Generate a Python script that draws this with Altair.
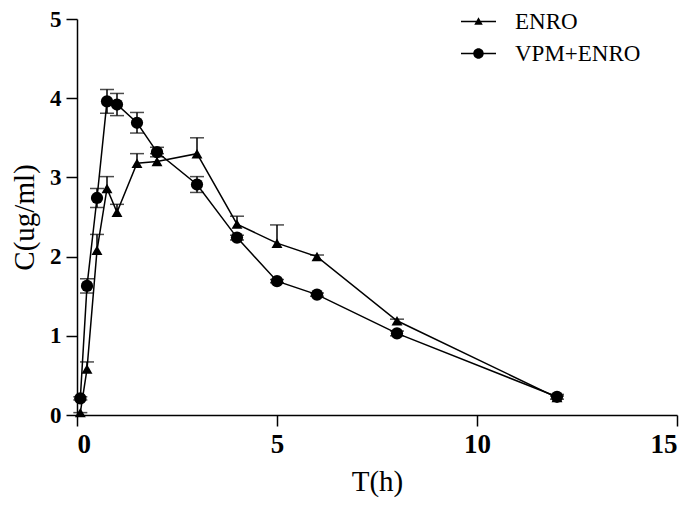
import altair as alt
import pandas as pd

# ---- data ----
time = [0.083, 0.25, 0.5, 0.75, 1, 1.5, 2, 3, 4, 5, 6, 8, 12]
enro = [0.03, 0.58, 2.08, 2.86, 2.56, 3.18, 3.20, 3.30, 2.41, 2.17, 2.00, 1.19, 0.22]
enro_err = [0.0, 0.09, 0.20, 0.15, 0.10, 0.12, 0.10, 0.20, 0.10, 0.23, 0.02, 0.02, 0.02]
vpm = [0.21, 1.63, 2.74, 3.96, 3.92, 3.69, 3.32, 2.91, 2.24, 1.69, 1.52, 1.03, 0.23]
vpm_err = [0.02, 0.09, 0.12, 0.15, 0.14, 0.13, 0.06, 0.10, 0.03, 0.02, 0.02, 0.03, 0.03]
series = ["ENRO", "VPM+ENRO"]
x_ticks = [0, 5, 10, 15]
y_ticks = [0, 1, 2, 3, 4, 5]

# ---- tables ----
rows = []
for t, v, e in zip(time, enro, enro_err):
    rows.append({"t": t, "c": v, "lo": v, "hi": v + e, "series": series[0]})
for t, v, e in zip(time, vpm, vpm_err):
    rows.append({"t": t, "c": v, "lo": v - e, "hi": v + e, "series": series[1]})
df = pd.DataFrame(rows)

caps = []
for r in rows:
    caps.append({"t": r["t"], "cap": r["hi"], "series": r["series"]})
    if r["series"] == series[1]:
        caps.append({"t": r["t"], "cap": r["lo"], "series": r["series"]})
caps_df = pd.DataFrame(caps)

FONT = "Liberation Serif"

xs = alt.Scale(domain=[0, 15], nice=False, zero=False)
ys = alt.Scale(domain=[0, 5], nice=False)
x_enc = alt.X("t:Q", scale=xs,
              axis=alt.Axis(values=x_ticks, format="d", title="T(h)",
                            titlePadding=10))
y_enc = alt.Y("c:Q", scale=ys,
              axis=alt.Axis(values=y_ticks, format="d", title="C(ug/ml)",
                            titlePadding=10))

base = alt.Chart(df)

lines = base.mark_line(color="black", strokeWidth=1.5).encode(
    x=x_enc, y=y_enc, detail="series:N")

bars = base.mark_rule(color="black", strokeWidth=1.5).encode(
    x=alt.X("t:Q", scale=xs), y=alt.Y("lo:Q", scale=ys), y2="hi:Q")

cap_marks = alt.Chart(caps_df).mark_tick(
    color="black", orient="horizontal", size=14, thickness=1.5).encode(
    x=alt.X("t:Q", scale=xs), y=alt.Y("cap:Q", scale=ys))

tri = base.transform_filter(alt.datum.series == series[0]).mark_point(
    shape="triangle-up", filled=True, color="black", size=120, opacity=1).encode(
    x=alt.X("t:Q", scale=xs), y=alt.Y("c:Q", scale=ys))

circ = base.transform_filter(alt.datum.series == series[1]).mark_point(
    shape="circle", filled=True, color="black", size=150, opacity=1).encode(
    x=alt.X("t:Q", scale=xs), y=alt.Y("c:Q", scale=ys))

# legend glyphs: a thin filled bar (the line) plus the marker, all clockwise
bar_path = "M-1.4,-0.06L1.4,-0.06L1.4,0.06L-1.4,0.06Z"
tri_path = bar_path + "M-0.34,0.26L0,-0.34L0.34,0.26Z"
circ_path = bar_path + ("M0.42,0A0.42,0.42 0 1,1 -0.42,0"
                        "A0.42,0.42 0 1,1 0.42,0Z")

legend_layer = base.transform_filter("false").mark_point(
    filled=True, color="black", opacity=1, size=625).encode(
    x=alt.X("t:Q", scale=xs), y=alt.Y("c:Q", scale=ys),
    shape=alt.Shape("series:N",
                    scale=alt.Scale(domain=series, range=[tri_path, circ_path]),
                    legend=alt.Legend(
                        title=None, orient="none", legendX=389, legendY=-10,
                        symbolSize=625, symbolOpacity=1,
                        symbolFillColor="black", symbolStrokeWidth=0,
                        labelOffset=24,
                        rowPadding=7, padding=0,
                        labelFont=FONT, labelFontSize=23, labelColor="black")))

chart = alt.layer(lines, bars, cap_marks, tri, circ, legend_layer).properties(
    width=600, height=396,
    autosize=alt.AutoSizeParams(type="none"),
    padding={"left": 69, "top": 11, "right": 15, "bottom": 88},
).configure_view(stroke=None).configure_axis(
    grid=False, domainColor="black", domainWidth=1.5,
    tickColor="black", tickWidth=1.5, tickSize=11,
    labelFont=FONT, labelFontWeight="bold",
    labelColor="black", labelPadding=5,
    titleFont=FONT, titleFontWeight="normal", titleFontSize=29,
    titleColor="black",
).configure_axisX(labelFontSize=27, labelPadding=5).configure_axisY(
    labelFontSize=23)

chart.save("out.html", embed_options={"renderer": "svg", "actions": False})
